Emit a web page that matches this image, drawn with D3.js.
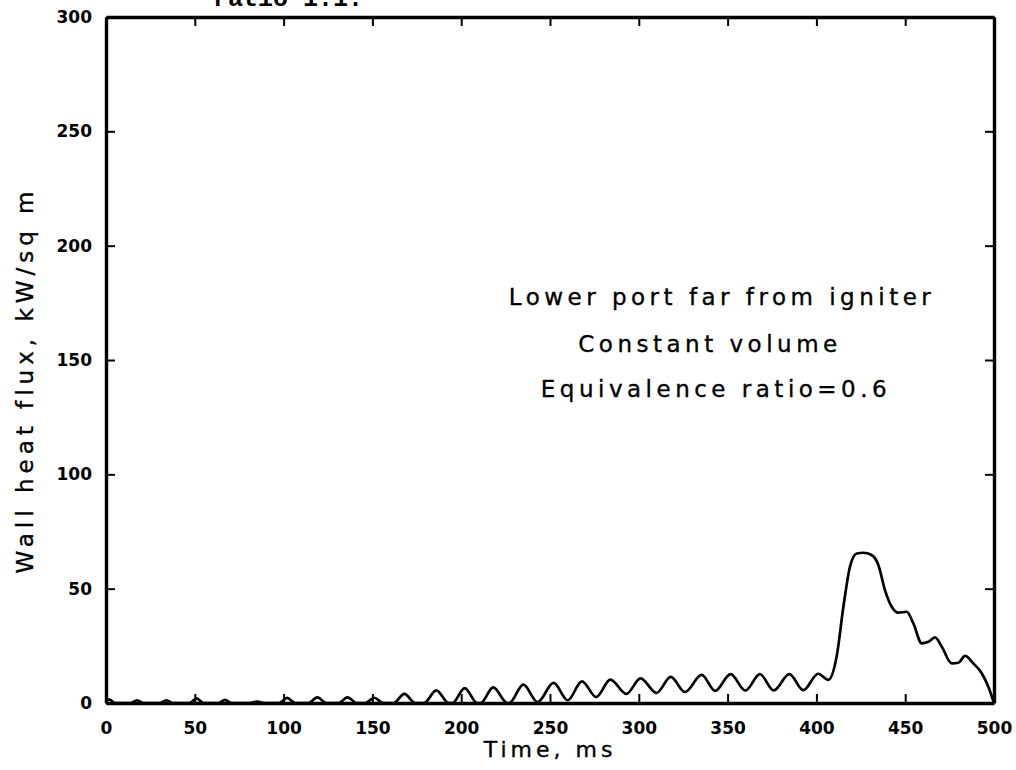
<!DOCTYPE html>
<html>
<head>
<meta charset="utf-8">
<script src="https://cdn.jsdelivr.net/npm/d3@7"></script>
<style>
  body { margin: 0; background: #fff; }
  svg { display: block; }
  .axis path, .axis line { stroke: #000; }
  .axis text { font-family: "DejaVu Sans", sans-serif; font-size: 17px; font-weight: bold; fill: #000; }
  .label { font-family: "DejaVu Sans", sans-serif; fill: #000; stroke: #000; stroke-width: 0.35px; }
</style>
</head>
<body>
<svg id="chart" width="1016" height="770"></svg>
<script>
// wall heat flux trace
let timeMs = [
  0, 2, 5,
  14, 17.5, 21,
  30.5, 34, 37.5,
  47, 51, 55,
  63.5, 67, 70.5,
  81, 85, 89,
  97.5, 102, 106.5,
  114, 119, 124,
  131, 136, 141,
  146, 151, 156,
  162, 168, 174,
  179, 186, 193,
  195, 202, 209,
  211, 218, 226,
  227, 235, 243,
  252, 260, 268, 276, 284, 293, 301, 310, 318, 326,
  335.4, 343, 351.7, 360, 368.2, 376, 384.8, 392.6, 401, 406.7,
  411.4, 415.2, 418.9, 422.7, 426.4, 431.1, 434.9, 438.6, 442.4, 446.1,
  450.8, 454.6, 459.3, 463.1, 466.8, 470.6, 476.2, 480, 483.7, 488.4,
  493.1, 496.8, 500
]
let heatFlux = [
  1.0, 1.5, 0,
  0, 1.2, 0,
  0, 1.2, 0,
  0, 2.0, 0,
  0, 1.4, 0,
  0, 0.6, 0,
  0, 2.2, 0,
  0, 2.5, 0,
  0, 2.5, 0,
  0, 2.3, 0,
  0, 4.0, 0,
  0, 5.5, 0,
  0, 6.5, 0,
  0, 6.8, 0,
  0, 8.0, 0.4,
  8.8, 1.2, 9.5, 2.6, 10.2, 4.0, 10.8, 4.4, 11.4, 4.8,
  12.3, 5.3, 12.6, 5.4, 12.6, 5.5, 12.6, 5.6, 12.8, 10.1,
  20.3, 42.1, 59.6, 65.4, 65.7, 64.7, 60.3, 49.4, 42.1, 39.5,
  39.9, 34.8, 26.1, 26.8, 28.7, 24.6, 17.3, 17.6, 20.6, 17.3,
  13.0, 7.1, 0
]

let xTicks = [0, 50, 100, 150, 200, 250, 300, 350, 400, 450, 500]
let yTicks = [0, 50, 100, 150, 200, 250, 300]

let notes = ['Lower port far from igniter', 'Constant volume', 'Equivalence ratio=0.6']

// plot box
let plotLeft = 106, plotRight = 994, plotTop = 17, plotBottom = 703
let tick = 9

let svg = d3.select('#chart')

let x = d3.scaleLinear().domain([0, 500]).range([plotLeft, plotRight])
let y = d3.scaleLinear().domain([0, 300]).range([plotBottom, plotTop])

// bottom axis with labels, ticks point inward
svg.append('g')
  .attr('class', 'axis')
  .attr('transform', `translate(0,${plotBottom})`)
  .call(d3.axisBottom(x).tickValues(xTicks).tickSize(-tick).tickSizeOuter(0).tickPadding(19))

svg.append('g')
  .attr('class', 'axis')
  .attr('transform', `translate(${plotLeft},0)`)
  .call(d3.axisLeft(y).tickValues(yTicks).tickSize(-tick).tickSizeOuter(0).tickPadding(14))

// top and right: ticks only
svg.append('g')
  .attr('class', 'axis')
  .attr('transform', `translate(0,${plotTop})`)
  .call(d3.axisTop(x).tickValues(xTicks).tickSize(-tick).tickSizeOuter(0).tickFormat(() => ''))

svg.append('g')
  .attr('class', 'axis')
  .attr('transform', `translate(${plotRight},0)`)
  .call(d3.axisRight(y).tickValues(yTicks).tickSize(-tick).tickSizeOuter(0).tickFormat(() => ''))

svg.selectAll('.axis path.domain').attr('stroke-width', 3.4)
svg.selectAll('.axis .tick line').attr('stroke-width', 2)

// the trace
let line = d3.line()
  .x((d, i) => x(timeMs[i]))
  .y((d) => y(d))
  .curve(d3.curveMonotoneX)

svg.append('path')
  .datum(heatFlux)
  .attr('d', line)
  .attr('fill', 'none')
  .attr('stroke', '#000')
  .attr('stroke-width', 2.7)
  .attr('stroke-linejoin', 'round')

// axis titles
svg.append('text')
  .attr('class', 'label')
  .text('Time, ms')
  .attr('x', (plotLeft + plotRight) / 2)
  .attr('y', 757)
  .attr('text-anchor', 'middle')
  .style('font-size', '22px')
  .style('letter-spacing', '4px')

svg.append('text')
  .attr('class', 'label')
  .text('Wall heat flux, kW/sq m')
  .attr('transform', 'translate(33,380) rotate(-90)')
  .attr('text-anchor', 'middle')
  .style('font-size', '23px')
  .style('letter-spacing', '5px')

// annotation block
svg.selectAll('.note')
  .data(notes)
  .enter()
  .append('text')
  .attr('class', 'note label')
  .text((d) => d)
  .attr('x', (d, i) => [722, 710, 716][i])
  .attr('y', (d, i) => [305, 352, 397][i])
  .attr('text-anchor', 'middle')
  .style('font-size', '23px')
  .style('letter-spacing', '4.5px')

// leftover caption from the page above, cut by the top edge
svg.append('text')
  .text('ratio 1.1.')
  .attr('x', 213)
  .attr('y', 6)
  .style('font-family', '"Liberation Mono", monospace')
  .style('font-size', '25px')
  .style('font-weight', 'bold')
</script>
</body>
</html>
